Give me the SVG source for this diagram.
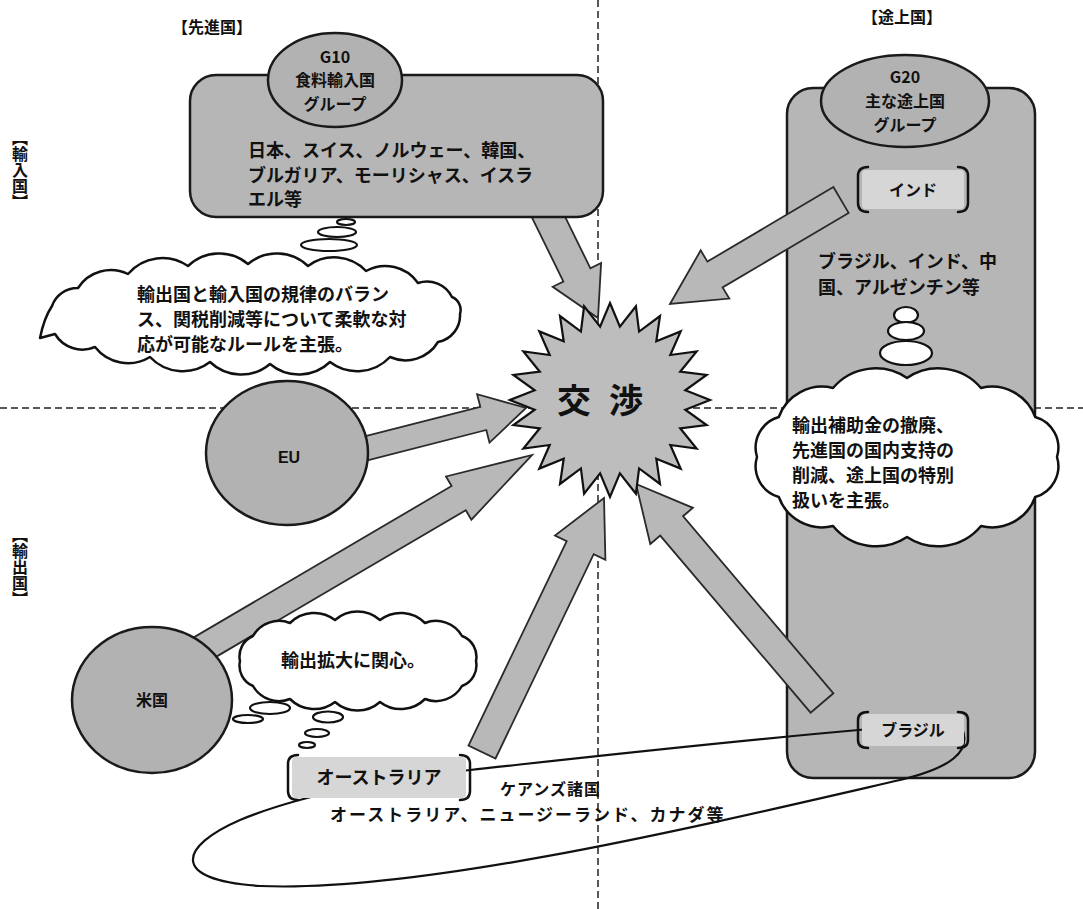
<svg xmlns="http://www.w3.org/2000/svg" width="1083" height="909" viewBox="0 0 1083 909">
<defs>
<style>
.t{font-family:"Noto Sans CJK JP","Liberation Sans",sans-serif;font-weight:700;fill:#111;}
.b18{font-size:18px;}
.b16{font-size:16px;}
.mid{text-anchor:middle;}
.dash{stroke:#222;stroke-width:1.5;stroke-dasharray:7,4;fill:none;}
.box{fill:#b6b6b6;stroke:#1a1a1a;stroke-width:2.5;}
.oval{fill:#b2b2b2;stroke:#1a1a1a;stroke-width:2.5;}
.arrow{fill:#b8b8b8;stroke:#2a2a2a;stroke-width:1.8;stroke-linejoin:miter;}
.cloud{fill:#fff;stroke:#111;stroke-width:2.5;stroke-linejoin:round;}
.bub{fill:#fff;stroke:#111;stroke-width:2.2;}
.tag{fill:#d6d6d6;}
.brk{fill:none;stroke:#111;stroke-width:2.5;stroke-linecap:round;}
</style>
</defs>

<g id="axes">
<line class="dash" x1="598" y1="0" x2="598" y2="909"/>
<line class="dash" x1="0" y1="408" x2="1083" y2="408"/>
</g>

<g id="axis-labels">
<text class="t b16" x="172" y="33">【先進国】</text>
<text class="t b16" x="862" y="23">【途上国】</text>
<text class="t b16" x="20" y="130" style="writing-mode:vertical-rl">【輸入国】</text>
<text class="t b16" x="20" y="527" style="writing-mode:vertical-rl">【輸出国】</text>
</g>

<g id="g20-group">
<rect class="box" x="787" y="88" width="248" height="690" rx="26"/>
<ellipse class="oval" cx="905" cy="101" rx="84" ry="46"/>
<text class="t b16 mid" x="905" y="83">G20</text>
<text class="t b16 mid" x="905" y="107">主な途上国</text>
<text class="t b16 mid" x="905" y="131">グループ</text>
<text class="t b18" x="818" y="268">ブラジル、インド、中</text>
<text class="t b18" x="818" y="294">国、アルゼンチン等</text>
</g>

<g id="cairns">
<path fill="none" stroke="#111" stroke-width="2.2" d="M 870,729 C 720,742 580,758 470,770 C 380,780 300,795 240,820 C 180,846 168,880 260,886 C 420,893 700,826 900,780 C 950,768 972,752 962,728"/>
<text class="t b16" x="500" y="795" letter-spacing="1">ケアンズ諸国</text>
<text class="t" x="330" y="821" style="font-size:17px" letter-spacing="2">オーストラリア、ニュージーランド、カナダ等</text>
</g>

<g id="connectors">
<polygon class="arrow" points="531.5,216.6 563.4,281.5 552.7,286.8 598,318 601.1,263.0 590.4,268.3 558.5,203.4"/>
<polygon class="arrow" points="833.4,187.1 707.4,261.6 700.7,250.4 670,304 729.3,298.6 722.6,287.4 848.6,212.9"/>
<polygon class="arrow" points="343.0,466.6 486.3,430.0 489.5,442.6 526,408 477.1,394.2 480.3,406.8 337.0,443.4"/>
<polygon class="arrow" points="207.1,662.1 465.8,510.2 471.4,519.7 532,455 446.0,476.5 451.6,486.0 192.9,637.9"/>
<polygon class="arrow" points="495.5,758.5 593.7,554.1 605.4,559.7 604,498 555.0,535.5 566.7,541.1 468.5,745.5"/>
<polygon class="arrow" points="833.4,693.3 683.0,516.2 692.9,507.8 636,484 650.3,544.0 660.2,535.6 810.6,712.7"/>
</g>

<g id="g10-group">
<rect class="box" x="190" y="75" width="413" height="142" rx="26"/>
<ellipse class="oval" cx="335" cy="80" rx="67" ry="47"/>
<text class="t b16 mid" x="335" y="63">G10</text>
<text class="t b16 mid" x="335" y="86">食料輸入国</text>
<text class="t b16 mid" x="335" y="110">グループ</text>
<text class="t b18" x="248" y="157">日本、スイス、ノルウェー、韓国、</text>
<text class="t b18" x="248" y="182">ブルガリア、モーリシャス、イスラ</text>
<text class="t b18" x="248" y="206">エル等</text>
</g>

<g id="eu">
<ellipse class="oval" cx="287" cy="453" rx="81" ry="72"/>
<text class="t b16 mid" x="289" y="463" style="font-family:'Liberation Sans',sans-serif">EU</text>
</g>

<g id="usa">
<ellipse class="oval" cx="152" cy="700" rx="80" ry="73"/>
<text class="t b16 mid" x="152" y="706">米国</text>
</g>

<g id="negotiation">
<polygon fill="#bdbdbd" stroke="#111" stroke-width="2.2" stroke-linejoin="miter" points="610,303 619.9,326.6 635.9,306.3 639.1,331.6 660,316 656.3,341.3 680.7,331.4 670.3,355 696.6,351.5 680.2,371.7 706.6,374.9 685.3,390.3 710,400 685.3,409.7 706.6,425.1 680.2,428.3 696.6,448.5 670.3,445 680.7,468.6 656.3,458.7 660,484 639.1,468.4 635.9,493.7 619.9,473.4 610,497 600.1,473.4 584.1,493.7 580.9,468.4 560,484 563.7,458.7 539.3,468.6 549.7,445 523.4,448.5 539.8,428.3 513.4,425.1 534.7,409.7 510,400 534.7,390.3 513.4,374.9 539.8,371.7 523.4,351.5 549.7,355 539.3,331.4 563.7,341.3 560,316 580.9,331.6 584.1,306.3 600.1,326.6"/>
<text class="t mid" x="609" y="413" style="font-size:34px" letter-spacing="18">交渉</text>
</g>

<g id="india">
<rect class="tag" x="862" y="170" width="102" height="39" rx="4"/>
<path class="brk" d="M 868,167 Q 858,167 858,176 L 858,203 Q 858,212 868,212"/>
<path class="brk" d="M 958,167 Q 968,167 968,176 L 968,203 Q 968,212 958,212"/>
<text class="t b16 mid" x="913" y="196">インド</text>
</g>

<g id="brazil">
<rect class="tag" x="862" y="714" width="102" height="32" rx="4"/>
<path class="brk" d="M 868,712 Q 858,712 858,720 L 858,740 Q 858,748 868,748"/>
<path class="brk" d="M 958,712 Q 968,712 968,720 L 968,740 Q 968,748 958,748"/>
<text class="t b16 mid" x="913" y="736">ブラジル</text>
</g>

<g id="australia">
<rect class="tag" x="292" y="757" width="174" height="41" rx="4"/>
<path class="brk" d="M 298,755 Q 288,755 288,764 L 288,791 Q 288,800 298,800"/>
<path class="brk" d="M 460,755 Q 470,755 470,764 L 470,791 Q 470,800 460,800"/>
<text class="t b18 mid" x="379" y="784">オーストラリア</text>
</g>

<g id="g10-comment">
<ellipse class="bub" cx="346" cy="222" rx="9" ry="3"/>
<ellipse class="bub" cx="337" cy="232" rx="19" ry="5"/>
<ellipse class="bub" cx="329" cy="245" rx="28" ry="6"/>
<path class="cloud" d="M 460,314 A 27,27 0 0 1 438,342 A 38,38 0 0 1 390,357 A 45,45 0 0 1 330,362 A 45,45 0 0 1 270,364 A 45,45 0 0 1 210,362 A 45,45 0 0 1 150,357 A 42,42 0 0 1 95,347 A 32,32 0 0 1 55,334 L 40,338 Q 44,318 52,306 A 27,27 0 0 1 78,288 A 39,39 0 0 1 128,274 A 45,45 0 0 1 188,266 A 45,45 0 0 1 248,264 A 45,45 0 0 1 308,266 A 44,44 0 0 1 366,271 A 40,40 0 0 1 418,283 A 28,28 0 0 1 452,297 A 14,14 0 0 1 460,314 Z"/>
<text class="t b18" x="137" y="301">輸出国と輸入国の規律のバラン</text>
<text class="t b18" x="137" y="326">ス、関税削減等について柔軟な対</text>
<text class="t b18" x="137" y="351">応が可能なルールを主張。</text>
</g>

<g id="g20-comment">
<ellipse class="bub" cx="906" cy="315" rx="12" ry="8"/>
<ellipse class="bub" cx="906" cy="331" rx="18" ry="9"/>
<ellipse class="bub" cx="906" cy="353" rx="26" ry="12"/>
<path class="cloud" d="M 1057,457 A 32,32 0 0 1 1035.2,497 A 46,46 0 0 1 981,526 A 56,56 0 0 1 907,537 A 56,56 0 0 1 833,526 A 46,46 0 0 1 778.8,497 A 32,32 0 0 1 757,457 A 32,32 0 0 1 778.8,417 A 46,46 0 0 1 833,388 A 56,56 0 0 1 907,378 A 56,56 0 0 1 981,388 A 46,46 0 0 1 1035.2,417 A 32,32 0 0 1 1057,457 Z"/>
<text class="t b18" x="792" y="432">輸出補助金の撤廃、</text>
<text class="t b18" x="792" y="457">先進国の国内支持の</text>
<text class="t b18" x="792" y="482">削減、途上国の特別</text>
<text class="t b18" x="792" y="507">扱いを主張。</text>
</g>

<g id="usa-comment">
<ellipse class="bub" cx="270" cy="708" rx="20" ry="6"/>
<ellipse class="bub" cx="248" cy="719" rx="15" ry="4"/>
<ellipse class="bub" cx="328" cy="717" rx="15" ry="5.5"/>
<ellipse class="bub" cx="317" cy="733" rx="12" ry="4"/>
<ellipse class="bub" cx="307" cy="745" rx="8" ry="3"/>
<path class="cloud" d="M 476,661 A 22,22 0 0 1 462,686 A 30,30 0 0 1 425,699 A 34,34 0 0 1 380,702 A 34,34 0 0 1 335,702 A 34,34 0 0 1 290,699 A 30,30 0 0 1 253,686 A 22,22 0 0 1 240,661 A 22,22 0 0 1 253,636 A 30,30 0 0 1 290,623 A 34,34 0 0 1 335,620 A 34,34 0 0 1 380,620 A 34,34 0 0 1 425,623 A 30,30 0 0 1 462,636 A 22,22 0 0 1 476,661 Z"/>
<text class="t b18" x="281" y="667">輸出拡大に関心。</text>
</g>
</svg>
